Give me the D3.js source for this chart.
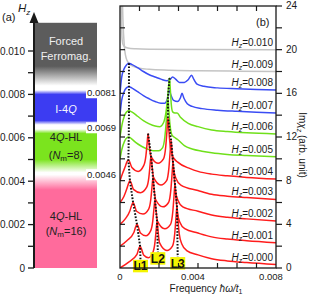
<!DOCTYPE html>
<html>
<head>
<meta charset="utf-8">
<script src="https://cdn.jsdelivr.net/npm/d3@7"></script>
<style>
body { margin: 0; background: #fff; }
svg { display: block; font-family: "Liberation Sans", Arial, sans-serif; }
</style>
</head>
<body>
<svg id="chart" width="311" height="294"></svg>
<script>
// ---------- data ----------
// panel (a): phase boundaries in Hz
var phaseBounds = [0.0046, 0.0069, 0.0081];
var phaseBoundLabels = ['0.0046', '0.0069', '0.0081'];
var hzTicksA = [0, 0.002, 0.004, 0.006, 0.008, 0.010];
var hzTickLabelsA = ['0', '0.002', '0.004', '0.006', '0.008', '0.010'];

// panel (b): Im chi_z spectra, [frequency, value] (curves stacked by 2 units)
var hzLabels = ['0.000', '0.001', '0.002', '0.003', '0.004', '0.005', '0.006', '0.007', '0.008', '0.009', '0.010'];

var chi000 = [[0,0],[4.1e-4,0.5],[8.7e-4,1.25],[9.6e-4,1.75],[10.3e-4,2.0],[11.0e-4,1.75],[12.1e-4,1.2],[14.6e-4,0.95],[16.8e-4,1.4],[17.9e-4,2.3],[18.5e-4,3.4],[19.0e-4,4.3],[19.5e-4,3.4],[20.3e-4,2.3],[24.1e-4,1.6],[26.9e-4,2.0],[28.1e-4,3.2],[28.7e-4,4.6],[29.2e-4,5.7],[29.7e-4,4.5],[30.4e-4,3.1],[31.7e-4,2.2],[34.2e-4,1.6],[40e-4,1.2],[47e-4,0.85],[55e-4,0.65],[65e-4,0.5],[80e-4,0.32]];
var chi001 = [[0,2],[3.5e-4,2.5],[7.1e-4,3.25],[8.0e-4,3.75],[8.7e-4,4.0],[9.4e-4,3.75],[10.5e-4,3.2],[13.3e-4,2.95],[15.7e-4,3.4],[16.8e-4,4.3],[17.4e-4,5.4],[17.9e-4,6.3],[18.4e-4,5.4],[19.2e-4,4.3],[23.0e-4,3.6],[25.9e-4,4.0],[27.1e-4,5.2],[27.7e-4,6.6],[28.2e-4,7.7],[28.7e-4,6.5],[29.4e-4,5.1],[30.7e-4,4.2],[33.2e-4,3.6],[40e-4,3.2],[47e-4,2.85],[55e-4,2.65],[65e-4,2.5],[80e-4,2.32]];
var chi002 = [[0,4],[2.7e-4,4.5],[5.1e-4,5.25],[6.0e-4,5.75],[6.7e-4,6.0],[7.4e-4,5.75],[8.5e-4,5.2],[11.8e-4,4.95],[14.7e-4,5.4],[15.8e-4,6.3],[16.4e-4,7.4],[16.9e-4,8.3],[17.4e-4,7.4],[18.2e-4,6.3],[22.0e-4,5.6],[24.9e-4,6.0],[26.1e-4,7.2],[26.7e-4,8.6],[27.2e-4,9.7],[27.7e-4,8.5],[28.4e-4,7.1],[29.7e-4,6.2],[32.2e-4,5.6],[40e-4,5.2],[47e-4,4.85],[55e-4,4.65],[65e-4,4.5],[80e-4,4.3]];
var chi003 = [[0,6],[2.0e-4,6.55],[3.5e-4,7.25],[4.4e-4,7.75],[5.1e-4,8.0],[5.8e-4,7.75],[6.9e-4,7.2],[10.5e-4,6.9],[13.7e-4,7.4],[14.8e-4,8.3],[15.4e-4,9.4],[15.9e-4,10.3],[16.4e-4,9.4],[17.2e-4,8.3],[21.0e-4,7.6],[23.9e-4,8.0],[25.1e-4,9.2],[25.7e-4,10.6],[26.2e-4,11.7],[26.7e-4,10.5],[27.4e-4,9.1],[28.7e-4,8.2],[31.2e-4,7.6],[40e-4,7.1],[47e-4,6.75],[55e-4,6.58],[65e-4,6.45],[80e-4,6.28]];
var chi004 = [[0,8],[1.4e-4,8.7],[2.8e-4,9.35],[3.6e-4,9.75],[4.3e-4,9.9],[5.0e-4,9.7],[6.1e-4,9.2],[9.3e-4,8.85],[12.2e-4,9.4],[13.3e-4,10.3],[13.9e-4,11.4],[14.4e-4,12.3],[14.9e-4,11.4],[15.7e-4,10.3],[19.5e-4,9.6],[22.3e-4,10.0],[23.5e-4,11.2],[24.1e-4,12.6],[24.6e-4,13.8],[25.1e-4,12.5],[25.8e-4,11.1],[27.1e-4,10.2],[29.6e-4,9.7],[36e-4,9.1],[40e-4,8.85],[47e-4,8.6],[55e-4,8.45],[65e-4,8.3],[80e-4,8.15]];
var chi005 = [[0,10],[1.0e-4,10.9],[2.3e-4,11.6],[3.4e-4,11.9],[4.5e-4,12.0],[5.8e-4,11.85],[8e-4,11.5],[11e-4,11.15],[14e-4,10.9],[17e-4,10.75],[20e-4,10.75],[21.8e-4,11.0],[23.0e-4,12.0],[23.7e-4,13.4],[24.2e-4,14.8],[24.6e-4,15.6],[25.0e-4,14.6],[25.6e-4,13.2],[26.6e-4,12.2],[28.5e-4,11.9],[30e-4,11.7],[33e-4,11.2],[37e-4,10.9],[42e-4,10.7],[47e-4,10.55],[55e-4,10.4],[65e-4,10.3],[80e-4,10.18]];
var chi006 = [[0,12],[1.0e-4,13.1],[2.2e-4,13.9],[3.4e-4,14.3],[4.6e-4,14.4],[6e-4,14.3],[9e-4,13.9],[12e-4,13.5],[15e-4,13.2],[18e-4,13.0],[20.5e-4,12.95],[22.3e-4,13.3],[23.6e-4,14.3],[24.4e-4,15.6],[24.9e-4,16.6],[25.4e-4,17.4],[25.8e-4,16.4],[26.3e-4,15.0],[27.0e-4,14.3],[28.2e-4,14.2],[29.3e-4,14.2],[31e-4,13.8],[35e-4,13.25],[40e-4,12.95],[47e-4,12.65],[55e-4,12.5],[65e-4,12.38],[80e-4,12.28]];
var chi007 = [[0,14],[0.8e-4,15.3],[2e-4,16.1],[3.3e-4,16.5],[4.6e-4,16.6],[6e-4,16.5],[9e-4,16.15],[12e-4,15.8],[15e-4,15.5],[18e-4,15.25],[21e-4,15.1],[23e-4,15.1],[24.3e-4,15.5],[25.2e-4,16.3],[26e-4,15.9],[27.5e-4,15.35],[29.5e-4,15.25],[31e-4,15.6],[31.8e-4,16.0],[32.8e-4,15.55],[34.5e-4,15.05],[37e-4,14.8],[42e-4,14.6],[50e-4,14.45],[60e-4,14.35],[70e-4,14.27],[80e-4,14.2]];
var chi008 = [[0,16],[0.8e-4,17.4],[2e-4,18.2],[3.3e-4,18.6],[4.6e-4,18.75],[6e-4,18.65],[9e-4,18.35],[12e-4,18.0],[15e-4,17.7],[18e-4,17.5],[21e-4,17.3],[24e-4,17.15],[25.5e-4,17.25],[27.0e-4,17.5],[28.5e-4,17.3],[30.5e-4,17.0],[33e-4,17.0],[35e-4,17.25],[36.7e-4,17.65],[37.8e-4,17.3],[39.5e-4,16.85],[43e-4,16.65],[50e-4,16.5],[60e-4,16.42],[70e-4,16.35],[80e-4,16.3]];
var chi009 = [[0.9e-4,28],[1.3e-4,24],[1.8e-4,21.5],[2.4e-4,20.0],[3.2e-4,19.2],[4.5e-4,18.75],[6.5e-4,18.5],[10e-4,18.3],[15e-4,18.2],[25e-4,18.12],[40e-4,18.07],[60e-4,18.03],[80e-4,18.0]];
var chi010 = [[0.5e-4,28],[0.8e-4,22.5],[1.1e-4,20.9],[1.6e-4,20.45],[2.5e-4,20.25],[4e-4,20.15],[8e-4,20.08],[15e-4,20.04],[40e-4,20.01],[80e-4,20.0]];

// peak tracks (dotted lines), ending at the L1/L2/L3 tags
var trackL1 = [[4.6e-4,18.75],[4.6e-4,16.6],[4.6e-4,14.4],[4.5e-4,12.0],[4.3e-4,9.9],[5.1e-4,8.0],[6.7e-4,6.0],[8.7e-4,4.0],[10.3e-4,2.0],[10.5e-4,0.75]];
var trackL2 = [[14.4e-4,12.3],[15.9e-4,10.3],[16.9e-4,8.3],[17.9e-4,6.3],[19.0e-4,4.3],[19.4e-4,1.45]];
var trackL3 = [[25.4e-4,17.4],[24.6e-4,15.6],[24.6e-4,13.8],[26.2e-4,11.7],[27.2e-4,9.7],[28.2e-4,7.7],[29.2e-4,5.7],[29.6e-4,1.0]];
var tagNames = ['L1', 'L2', 'L3'];

var freqTicks = [0, 0.004, 0.008];
var freqTickLabels = ['0', '0.004', '0.008'];
var chiTicks = [0, 4, 8, 12, 16, 20, 24];

var spectra = [chi000, chi001, chi002, chi003, chi004, chi005, chi006, chi007, chi008, chi009, chi010]
    .map(function(pts, i) { return { hz: hzLabels[i], pts: pts }; });

// ---------- drawing ----------
var svg = d3.select('#chart');
var black = '#1a1a1a';

// ===== panel (a) =====
var yA = d3.scaleLinear().domain([0, 0.012]).range([268, 7.6]);
var barTop = 0.0113;

var defs = svg.append('defs');
var grad = defs.append('linearGradient')
    .attr('id', 'phaseGrad')
    .attr('gradientUnits', 'userSpaceOnUse')
    .attr('x1', 0).attr('x2', 0)
    .attr('y1', yA(0)).attr('y2', yA(barTop));
var pink = '#ff6b9c', green = '#7be41e', blue = '#3c3cf2', gray = '#5c5c5c';
[[0, pink], [0.0036, pink], [0.0043, '#fff'], [0.0044, '#fff'], [0.0050, green], [0.0062, green],
 [0.0064, '#fff'], [0.0066, '#fff'], [0.0068, blue], [0.0080, blue], [0.0082, '#fff'], [0.0084, '#fff'],
 [0.0093, gray], [barTop, gray]].forEach(function(s) {
    grad.append('stop').attr('offset', s[0] / barTop).attr('stop-color', s[1]);
});

svg.append('rect')
    .attr('x', 35).attr('width', 62)
    .attr('y', yA(barTop)).attr('height', yA(0) - yA(barTop))
    .attr('fill', 'url(#phaseGrad)');

// boundary labels with white backing
phaseBounds.forEach(function(v, i) {
    var dy = [10, 13, 4][i];
    svg.append('rect')
        .attr('x', 86).attr('y', yA(v) + dy - 9).attr('width', 28).attr('height', 11)
        .attr('fill', '#fff');
    svg.append('text')
        .attr('x', 87).attr('y', yA(v) + dy)
        .attr('font-size', '9.5px').attr('fill', black)
        .text(phaseBoundLabels[i]);
});

// phase names; parts: [text, italic, baseline shift (subscript)]
function bandText(x, y, parts, fill) {
    var t = svg.append('text').attr('x', x).attr('y', y)
        .attr('text-anchor', 'middle').attr('font-size', '11px').attr('fill', fill);
    parts.forEach(function(p) {
        var s = t.append('tspan').text(p[0]);
        if (p[1]) s.attr('font-style', 'italic');
        if (p[2]) s.attr('dy', p[2]);
        if (p[2] > 0) s.attr('font-size', '8px');
    });
}
bandText(66, 45, [['Forced']], '#f0f0f0');
bandText(66, 60, [['Ferromag.']], '#f0f0f0');
bandText(66, 113, [['I-4'], ['Q', true]], '#f4f4ff');
bandText(66, 141, [['4'], ['Q', true], ['-HL']], '#222');
bandText(66, 159, [['('], ['N', true], ['m', false, 2], ['=8)', false, -2]], '#222');
bandText(66, 220, [['4'], ['Q', true], ['-HL']], '#222');
bandText(66, 235, [['('], ['N', true], ['m', false, 2], ['=16)', false, -2]], '#222');

// axis with arrow
svg.append('line')
    .attr('x1', 34).attr('x2', 34).attr('y1', yA(0)).attr('y2', 20)
    .attr('stroke', black).attr('stroke-width', 2);
svg.append('path')
    .attr('d', d3.line()([[29.5, 23], [38.5, 23], [34, 12]]) + 'Z')
    .attr('fill', black);

var minorA = d3.range(0, 0.0105, 0.001);
svg.selectAll('.tickA').data(minorA).enter().append('line')
    .attr('x1', 28).attr('x2', 34)
    .attr('y1', function(d) { return yA(d); }).attr('y2', function(d) { return yA(d); })
    .attr('stroke', black).attr('stroke-width', 1.3);
svg.selectAll('.tickLabA').data(hzTicksA).enter().append('text')
    .attr('x', 25).attr('y', function(d) { return yA(d) + 3.5; })
    .attr('text-anchor', 'end').attr('font-size', '10px').attr('fill', black)
    .text(function(d, i) { return hzTickLabelsA[i]; });

svg.append('text').attr('x', 2).attr('y', 21).attr('font-size', '11px').attr('fill', black).text('(a)');
var hzT = svg.append('text').attr('x', 18).attr('y', 12).attr('font-size', '11.5px').attr('fill', black);
hzT.append('tspan').attr('font-style', 'italic').text('H');
hzT.append('tspan').attr('font-style', 'italic').attr('font-size', '8px').attr('dy', 3).text('z');

// ===== panel (b) =====
var x = d3.scaleLinear().domain([0, 0.008]).range([120, 276]);
var y = d3.scaleLinear().domain([0, 24]).range([268, 6]);

defs.append('clipPath').attr('id', 'plotClip')
    .append('rect').attr('x', x(0)).attr('y', y(24))
    .attr('width', x(0.008) - x(0)).attr('height', y(0) - y(24));

function curveColor(hz) {
    var v = +hz;
    if (v >= 0.0085) return '#c4c4c4';
    if (v >= 0.0065) return '#3a4cf4';
    if (v >= 0.0045) return '#6fe01a';
    return '#ff1c1c';
}

var line = d3.line()
    .x(function(d) { return x(d[0]); })
    .y(function(d) { return y(d[1]); })
    .curve(d3.curveMonotoneX);

var plot = svg.append('g').attr('clip-path', 'url(#plotClip)');
plot.selectAll('.spec').data(spectra.slice().reverse()).enter().append('path')
    .attr('class', 'spec')
    .attr('d', function(d) { return line(d.pts); })
    .attr('fill', 'none')
    .attr('stroke', function(d) { return curveColor(d.hz); })
    .attr('stroke-width', 1.5);

// dotted peak tracks
var straight = d3.line().x(function(d) { return x(d[0]); }).y(function(d) { return y(d[1]); });
[trackL1, trackL2, trackL3].forEach(function(tr) {
    plot.append('path').attr('d', straight(tr))
        .attr('fill', 'none').attr('stroke', '#111')
        .attr('stroke-width', 2).attr('stroke-dasharray', '1.6,1.6');
});

// curve labels
spectra.forEach(function(s) {
    var last = s.pts[s.pts.length - 1];
    var t = svg.append('text')
        .attr('x', 273).attr('y', y(last[1]) - 4)
        .attr('text-anchor', 'end').attr('font-size', '10px').attr('fill', black);
    t.append('tspan').attr('font-style', 'italic').text('H');
    t.append('tspan').attr('font-style', 'italic').attr('font-size', '7px').attr('dy', 2).text('z');
    t.append('tspan').attr('dy', -2).text('=' + s.hz);
});

// L tags
[trackL1, trackL2, trackL3].forEach(function(tr, i) {
    var end = tr[tr.length - 1];
    var g = svg.append('g').attr('transform', 'translate(' + x(end[0]) + ',' + y(end[1]) + ')');
    g.append('rect').attr('x', -7.5).attr('y', 0).attr('width', 15).attr('height', 12.5).attr('fill', '#f4f400');
    g.append('text').attr('x', 0).attr('y', 10.5).attr('text-anchor', 'middle')
        .attr('font-size', '12px').attr('font-weight', 'bold').attr('fill', '#111').text(tagNames[i]);
});

// frame
svg.append('rect')
    .attr('x', x(0)).attr('y', y(24))
    .attr('width', x(0.008) - x(0)).attr('height', y(0) - y(24))
    .attr('fill', 'none').attr('stroke', black).attr('stroke-width', 1.3);

// inner ticks on top/bottom/left, outer on right
var fMinor = d3.range(0.001, 0.008, 0.001);
var cMinor = d3.range(2, 24, 2);
svg.selectAll('.tb').data(fMinor).enter().append('line')
    .attr('x1', function(d) { return x(d); }).attr('x2', function(d) { return x(d); })
    .attr('y1', y(24)).attr('y2', y(24) + 5).attr('stroke', black).attr('stroke-width', 1.2);
svg.selectAll('.bb').data(fMinor).enter().append('line')
    .attr('x1', function(d) { return x(d); }).attr('x2', function(d) { return x(d); })
    .attr('y1', y(0)).attr('y2', y(0) - 5).attr('stroke', black).attr('stroke-width', 1.2);
svg.selectAll('.lb').data(cMinor).enter().append('line')
    .attr('x1', x(0)).attr('x2', x(0) + 5)
    .attr('y1', function(d) { return y(d); }).attr('y2', function(d) { return y(d); })
    .attr('stroke', black).attr('stroke-width', 1.2);
svg.selectAll('.rb').data(d3.range(0, 25, 2)).enter().append('line')
    .attr('x1', x(0.008)).attr('x2', x(0.008) + 6)
    .attr('y1', function(d) { return y(d); }).attr('y2', function(d) { return y(d); })
    .attr('stroke', black).attr('stroke-width', 1.2);

svg.selectAll('.rl').data(chiTicks).enter().append('text')
    .attr('x', 286).attr('y', function(d) { return y(d) + 3; })
    .attr('font-size', '10px').attr('fill', black)
    .text(function(d) { return d; });
svg.selectAll('.bl').data(freqTicks).enter().append('text')
    .attr('x', function(d, i) { return x(d) - [0, 5, 5][i]; }).attr('y', 280)
    .attr('text-anchor', 'middle').attr('font-size', '9.5px').attr('fill', black)
    .text(function(d, i) { return freqTickLabels[i]; });

// axis titles
var ft = svg.append('text').attr('x', 206).attr('y', 292)
    .attr('text-anchor', 'middle').attr('font-size', '10px').attr('fill', black);
ft.append('tspan').text('Frequency ');
ft.append('tspan').attr('font-style', 'italic').text('ħω/t');
ft.append('tspan').attr('font-size', '7px').attr('dy', 2).text('1');

var yt = svg.append('text')
    .attr('transform', 'translate(299,145) rotate(90)')
    .attr('text-anchor', 'middle').attr('font-size', '10px').attr('fill', black);
yt.append('tspan').text('Im');
yt.append('tspan').attr('font-style', 'italic').text('χ');
yt.append('tspan').attr('font-style', 'italic').attr('font-size', '7px').attr('dy', 2).text('z');
yt.append('tspan').attr('dy', -2).text(' (arb. unit)');

svg.append('text').attr('x', 256).attr('y', 26).attr('font-size', '11px').attr('fill', black).text('(b)');
</script>
</body>
</html>
